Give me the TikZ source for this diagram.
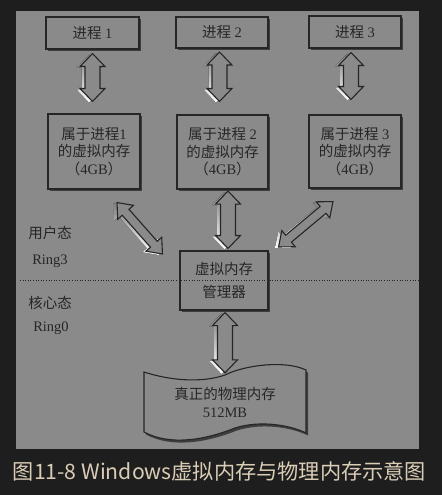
\documentclass[tikz,border=0pt]{standalone}
\usepackage{fontspec}
\setmainfont{Liberation Serif}
\newfontfamily\cjk{Noto Sans CJK SC}
\usetikzlibrary{calc,shadows}
\definecolor{bgdark}{HTML}{1E1E1E}
\definecolor{panel}{HTML}{8A8A8A}
\definecolor{ink}{HTML}{262626}
\definecolor{capc}{HTML}{DACDB6}
\definecolor{shade}{HTML}{3A3A3A}

\newcommand\dblarrow[5]{%
  \coordinate (qa) at ($(#1)!#5!(#2)$);
  \coordinate (qb) at ($(#2)!#5!(#1)$);
  \coordinate (r2) at ($(qa)!#4!90:(#2)$);
  \coordinate (r3) at ($(qa)!#3!90:(#2)$);
  \coordinate (r4) at ($(qb)!#3!-90:(#1)$);
  \coordinate (r5) at ($(qb)!#4!-90:(#1)$);
  \coordinate (r7) at ($(qb)!#4!90:(#1)$);
  \coordinate (r8) at ($(qb)!#3!90:(#1)$);
  \coordinate (r9) at ($(qa)!#3!-90:(#2)$);
  \coordinate (r10) at ($(qa)!#4!-90:(#2)$);
  \begin{scope}[transform canvas={xshift=-3.5pt,yshift=-1pt}]
    \fill[shade] (#1)--(r2)--(r3)--(r4)--(r5)--(#2)--(r7)--(r8)--(r9)--(r10)--cycle;
  \end{scope}
  \filldraw[arrowbody] (#1)--(r2)--(r3)--(r4)--(r5)--(#2)--(r7)--(r8)--(r9)--(r10)--cycle;
}

\begin{document}
\begin{tikzpicture}[x=1pt,y=-1pt,
  txt/.style={text=ink, font=\fontsize{14.5pt}{17.5pt}\selectfont, align=center, inner sep=0pt},
  pbox/.style={txt, draw=ink, line width=1.1pt, fill=panel,
     drop shadow={shadow xshift=1.5pt, shadow yshift=-2pt, fill=black, opacity=0.55}},
  arrowbody/.style={draw=ink, line width=1.1pt, fill=panel, line join=miter},
  dotline/.style={draw=ink, line width=0.9pt, dash pattern=on 1pt off 1.6pt},
  captxt/.style={text=capc, font=\cjk\fontsize{21.2pt}{24pt}\selectfont, inner sep=0pt}]
\useasboundingbox (0,0) rectangle (442,495);
\fill[bgdark] (0,0) rectangle (442,495);
\fill[panel] (16,11.5) rectangle (419,449);

% process boxes
\node[pbox, minimum width=93pt, minimum height=32pt] (p1) at (92.5,33) {{\cjk 进程} 1};
\node[pbox, minimum width=92pt, minimum height=31pt] (p2) at (222,32.5) {{\cjk 进程} 2};
\node[pbox, minimum width=92pt, minimum height=32pt] (p3) at (355,32) {{\cjk 进程} 3};

% virtual memory boxes
\node[pbox, minimum width=92pt, minimum height=75pt] (m1) at (94,151.5)
  {{\cjk 属于进程}1\\{\cjk 的虚拟内存}\\{\cjk （}4GB{\cjk ）}};
\node[pbox, minimum width=91pt, minimum height=74pt] (m2) at (222.5,152)
  {{\cjk 属于进程} 2\\{\cjk 的虚拟内存}\\{\cjk （}4GB{\cjk ）}};
\node[pbox, minimum width=92pt, minimum height=73pt] (m3) at (355,151.5)
  {{\cjk 属于进程} 3\\{\cjk 的虚拟内存}\\{\cjk （}4GB{\cjk ）}};

% manager
\node[pbox, minimum width=88pt, minimum height=59pt] (mgr) at (224,280.5)
  {{\cjk 虚拟内存}\\[6pt]{\cjk 管理器}};

% dotted separator
\coordinate (dl) at (20,280);
\coordinate (dr) at (418,280);
\draw[dotline] (dl) -- (dr);

% side labels
\node[txt] (u1) at (50,233) {\cjk 用户态};
\node[txt] (u2) at (50,261) {Ring3};
\node[txt] (k1) at (50,303) {\cjk 核心态};
\node[txt] (k2) at (51,328) {Ring0};

% physical memory (tape shape)
\fill[black, opacity=0.55, transform canvas={xshift=2pt,yshift=-2.5pt}]
  (144,372) .. controls (175,382) and (205,382) .. (225,375)
  .. controls (245,365) and (285,360) .. (306,370) -- (306,433)
  .. controls (290,425) and (260,420) .. (235,428)
  .. controls (205,440) and (170,446) .. (144,432) -- cycle;
\filldraw[arrowbody]
  (144,372) .. controls (175,382) and (205,382) .. (225,375)
  .. controls (245,365) and (285,360) .. (306,370) -- (306,433)
  .. controls (290,425) and (260,420) .. (235,428)
  .. controls (205,440) and (170,446) .. (144,432) -- cycle;
\node[txt, minimum width=162pt, minimum height=62pt, align=center] (phys) at (225,402)
  {{\cjk 真正的物理内存}\\[0.5pt]512MB};

% arrow end points
\coordinate (a1s) at ($(p1.south)+(0,4)$);
\coordinate (a1e) at ($(m1.north)+(-1.5,-12)$);
\coordinate (a2s) at ($(p2.south)+(-2.5,3.5)$);
\coordinate (a2e) at ($(m2.north)+(-3,-13)$);
\coordinate (a3s) at ($(p3.south)+(-4,4)$);
\coordinate (a3e) at ($(m3.north)+(-4,-15)$);
\coordinate (a4s) at ($(m2.south)+(5.5,1.5)$);
\coordinate (a4e) at ($(mgr.north)+(4,-2)$);
\coordinate (dls) at ($(m1.south)+(23,13)$);
\coordinate (dle) at ($(mgr.west)+(-17,-26.5)$);
\coordinate (drs) at ($(m3.south)+(-22,13)$);
\coordinate (dre) at ($(mgr.east)+(10,-33.5)$);
\coordinate (a5s) at ($(mgr.south)+(1,2)$);
\coordinate (a5e) at ($(phys.north)+(0,2)$);

\dblarrow{a1s}{a1e}{7.5pt}{12.5pt}{13pt}
\dblarrow{a2s}{a2e}{7.5pt}{12.5pt}{13pt}
\dblarrow{a3s}{a3e}{7.5pt}{12.5pt}{13pt}
\dblarrow{a4s}{a4e}{7.5pt}{12.5pt}{13pt}
\dblarrow{dls}{dle}{4.5pt}{10.5pt}{13pt}
\dblarrow{drs}{dre}{4.5pt}{10.5pt}{13pt}
\dblarrow{a5s}{a5e}{7.5pt}{12.5pt}{13pt}

% caption
\node[captxt] (cap) at (219.5,471) {图11-8 Windows虚拟内存与物理内存示意图};
\end{tikzpicture}
\end{document}
